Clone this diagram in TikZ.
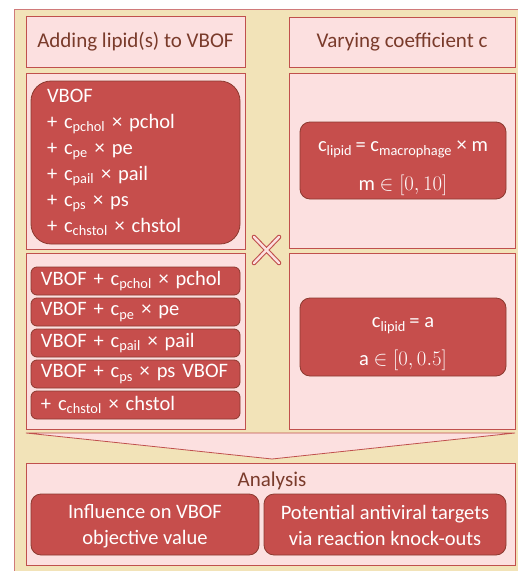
\documentclass[tikz,border=0pt]{standalone}
\usepackage{fontspec}
\setmainfont{Carlito}
\definecolor{bgtan}{HTML}{F2E3B8}
\definecolor{outerline}{HTML}{D07A7A}
\definecolor{pinkbg}{HTML}{FCE0E0}
\definecolor{boxred}{HTML}{C0504D}
\definecolor{redfill}{HTML}{C64E4C}
\definecolor{redline}{HTML}{8C3A30}
\definecolor{hdrbrown}{HTML}{7A3B2B}
\newcommand\lsub[1]{\textsubscript{#1}}
\begin{document}
\begin{tikzpicture}[x=1pt,y=-1pt,
  outerbox/.style={draw=outerline, fill=bgtan, line width=1pt, inner sep=0pt, anchor=north west},
  panel/.style={draw=boxred, fill=pinkbg, line width=0.8pt, inner sep=0pt},
  hdr/.style={panel, text=hdrbrown, font=\fontsize{21}{25}\selectfont},
  redbox/.style={draw=redline, fill=redfill, line width=0.8pt, text=white,
     font=\fontsize{20.5}{25}\selectfont, inner sep=0pt},
  bar/.style={redbox, rounded corners=6pt, minimum height=28pt, text width=189pt,
     inner xsep=10pt, align=left},
  xline/.style={line cap=round}
]
\useasboundingbox (0,0) rectangle (518,571);
\clip (0,0) rectangle (518,571);
% outer frame (clipped at right and bottom)
\node[outerbox, minimum width=530pt, minimum height=600pt] (outer) at (14,9) {};

% headers
\node[hdr, minimum width=219pt, minimum height=51pt] (h1) at (135.5,42) {Adding lipid(s) to VBOF};
\node[hdr, minimum width=226pt, minimum height=50pt] (h2) at (402,42) {Varying coefficient c};

% content panels
\node[panel, minimum width=219pt, minimum height=176pt] (p1) at (135.5,161) {};
\node[panel, minimum width=226pt, minimum height=175pt] (p2) at (402,160.5) {};
\node[panel, minimum width=219pt, minimum height=176pt] (p3) at (135.5,341) {};
\node[panel, minimum width=226pt, minimum height=176pt] (p4) at (402,341) {};

% VBOF box
\node[redbox, rounded corners=20pt, minimum width=209pt, minimum height=163pt,
      text width=177pt, inner xsep=16pt, align=left, font=\fontsize{20.5}{26}\selectfont] (vbof) at (135.5,162.5)
  {VBOF\\
   + c\lsub{pchol} × pchol\\
   + c\lsub{pe} × pe\\
   + c\lsub{pail} × pail\\
   + c\lsub{ps} × ps\\
   + c\lsub{chstol} × chstol};

% bars
\node[bar] (b1) at (135.5,281) {VBOF + c\lsub{pchol} × pchol};
\node[bar] (b2) at (135.5,312) {VBOF + c\lsub{pe} × pe};
\node[bar] (b3) at (135.5,343) {VBOF + c\lsub{pail} × pail};
\node[bar] (b4) at (135.5,374) {VBOF + c\lsub{ps} × ps VBOF};
\node[bar] (b5) at (135.5,405) {+ c\lsub{chstol} × chstol};

% right red boxes
\node[redbox, rounded corners=10pt, minimum width=206pt, minimum height=77pt, align=center]
  (r1) at (403,160.5) {\rule{0pt}{27pt}c\lsub{lipid}\,= c\lsub{macrophage} × m\\[14pt] m $\in [0, 10]$};
\node[redbox, rounded corners=10pt, minimum width=206pt, minimum height=78pt, align=center]
  (r2) at (403,337) {\rule{0pt}{25pt}c\lsub{lipid}\,= a\\[13pt] a $\in [0, 0.5]$};

% cross
\draw[xline, boxred, line width=4.6pt] (254,237) -- (279,263) (254,263) -- (279,237);
\draw[xline, pinkbg, line width=2.4pt] (254,237) -- (279,263) (254,263) -- (279,237);

% chevron
\draw[draw=boxred, fill=pinkbg, line width=0.8pt, line join=miter] (26,433) -- (515,433) -- (272,459) -- cycle;

% analysis
\node[panel, minimum width=489pt, minimum height=102pt] (an) at (270.5,514) {};
\node[text=hdrbrown, font=\fontsize{21}{25}\selectfont, inner sep=0pt] (antitle) at (272,481) {Analysis};
\node[redbox, rounded corners=10pt, minimum width=228pt, minimum height=61pt, align=center,
      font=\fontsize{20.5}{26}\selectfont] (a1) at (145,524.5) {\rule{0pt}{17pt}Influence on VBOF\\objective value};
\node[redbox, rounded corners=10pt, minimum width=242pt, minimum height=61pt, align=center,
      font=\fontsize{20.5}{26}\selectfont] (a2) at (385,524.5) {\rule{0pt}{17pt}Potential antiviral targets\\via reaction knock-outs};
\end{tikzpicture}
\end{document}
